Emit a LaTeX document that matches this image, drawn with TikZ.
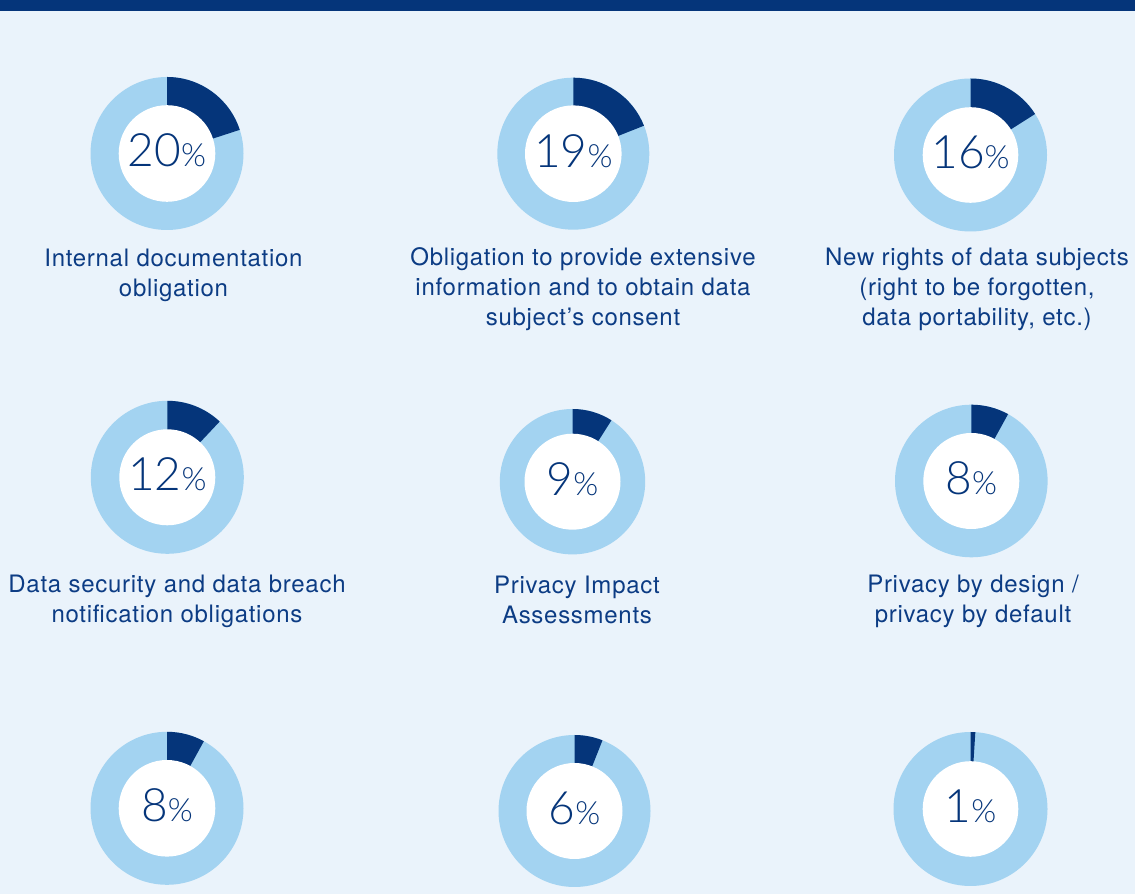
\documentclass[tikz,border=0pt]{standalone}
\usepackage{fontspec}
\setmainfont{TeX Gyre Heros}[LetterSpace=3.0]
\newfontfamily\pctfont{Lato Light}
\usetikzlibrary{calc}
\definecolor{navy}{RGB}{5,53,122}
\definecolor{ringlight}{RGB}{163,211,241}
\definecolor{bgblue}{RGB}{234,243,251}
\definecolor{txtblue}{RGB}{12,60,132}
\tikzset{
  lbl/.style={anchor=base, align=center, inner sep=0pt, text=txtblue,
    font=\fontsize{24}{30}\selectfont},
  pcttext/.style={anchor=base, inner sep=0pt, text=navy},
  hole/.style={circle, fill=white, inner sep=0pt, draw=none}
}
% #1 name, #2 x, #3 y (image), #4 outer radius, #5 inner radius, #6 percent
\newcommand\mydonut[6]{%
  \fill[ringlight] (#2,{894-#3}) circle (#4pt);
  \fill[navy] (#2,{894-#3}) -- ++(90:#4pt)
     arc[start angle=90, end angle={90-3.6*#6}, radius=#4pt] -- cycle;
  \node[hole, minimum size={2*#5*1pt}] (#1) at (#2,{894-#3}) {};
  \node[pcttext] (#1pct) at ($(#1)+(0,-13.5)$)
     {{\pctfont\fontsize{46}{46}\selectfont #6}{\pctfont\fontsize{32}{32}\selectfont\%}};
}
\begin{document}
\begin{tikzpicture}[x=1pt,y=1pt]
\useasboundingbox (0,0) rectangle (1135,894);
\fill[bgblue] (0,0) rectangle (1135,894);
\fill[navy] (0,883) rectangle (1135,894);

\mydonut{d1}{167}{153.5}{76.5}{48.3}{20}
\mydonut{d2}{573.3}{153.7}{76}{48.3}{19}
\mydonut{d3}{970.5}{155}{76.5}{47.8}{16}
\mydonut{d4}{167.3}{477.3}{76.5}{48}{12}
\mydonut{d5}{572.5}{481.7}{72.7}{48}{9}
\mydonut{d6}{971.3}{481}{76.3}{48}{8}
\mydonut{d7}{167}{808.3}{76.5}{48.3}{8}
\mydonut{d8}{574.5}{811}{76}{48}{6}
\mydonut{d9}{970.5}{809}{77}{47.8}{1}

% base anchor = baseline of the last line
\node[lbl] (l1) at (173.5,{894-297}) {Internal documentation\\obligation};
\node[lbl] (l2) at (583,{894-326}) {Obligation to provide extensive\\information and to obtain data\\subject’s consent};
\node[lbl] (l3) at (977,{894-326}) {New rights of data subjects\\(right to be forgotten,\\data portability, etc.)};
\node[lbl] (l4) at (177,{894-623}) {Data security and data breach\\notification obligations};
\node[lbl] (l5) at (577,{894-624}) {Privacy Impact\\Assessments};
\node[lbl] (l6) at (973,{894-623}) {Privacy by design /\\privacy by default};
\end{tikzpicture}
\end{document}
